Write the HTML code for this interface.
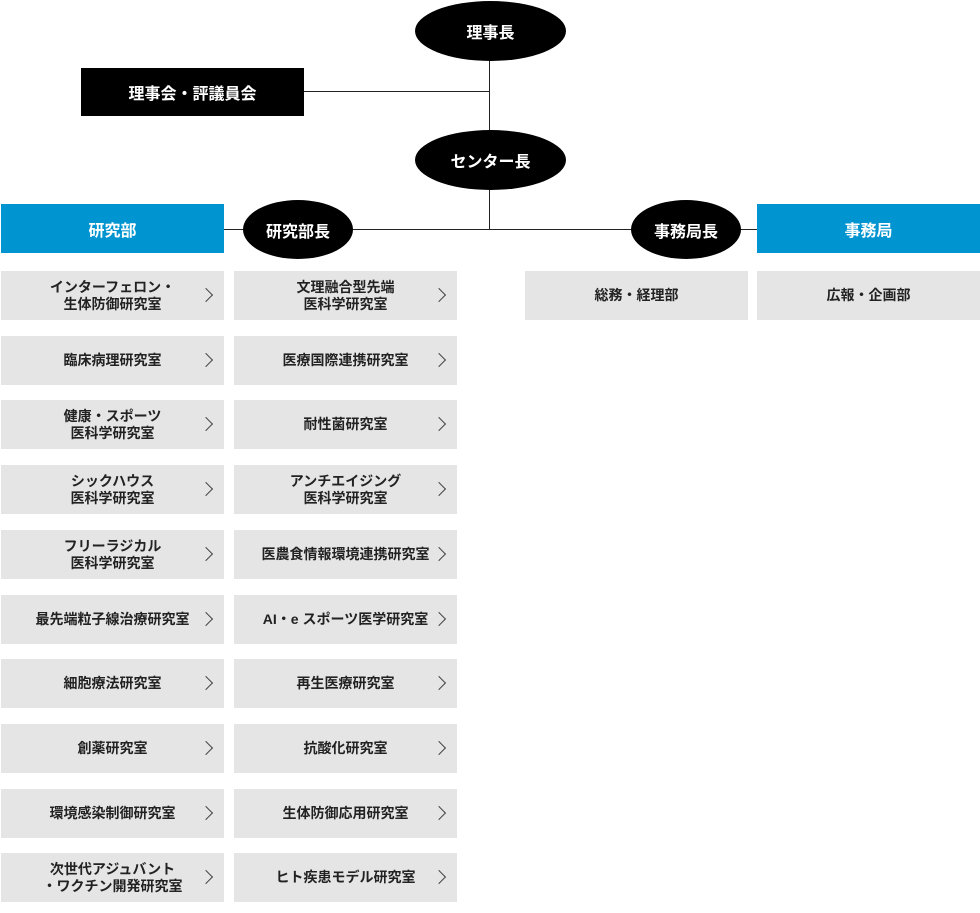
<!DOCTYPE html>
<html><head><meta charset="utf-8"><style>
body{margin:0;width:980px;height:913px;background:#fff;position:relative;font-family:"Liberation Sans","Noto Sans CJK JP",sans-serif;overflow:hidden}
.a{position:absolute;display:flex;align-items:center;justify-content:center;text-align:center;box-sizing:border-box}
.el{background:#000;color:#fff;border-radius:50%;font-size:16px;font-weight:bold}
.blk{background:#000;color:#fff;font-size:16px;font-weight:bold}
.blue{background:#0095d0;color:#fff;font-size:16px;font-weight:bold}
.g{background:#e5e5e5;color:#222;font-size:14px;font-weight:bold;line-height:17px;width:223px;height:49px}
.g span{display:block;width:223px}
.g.c::after{content:"";position:absolute;right:13px;top:19px;width:9px;height:9px;border-top:1px solid #444;border-right:1px solid #444;transform:rotate(45deg)}
.l{position:absolute;background:#222}
</style></head><body>
<div class="l" style="left:489px;top:50px;width:1px;height:180px"></div>
<div class="l" style="left:304px;top:91px;width:186px;height:1px"></div>
<div class="l" style="left:224px;top:229px;width:533px;height:1px"></div>
<div class="a el" style="left:415px;top:1px;width:151px;height:60px">理事長</div>
<div class="a blk" style="left:81px;top:68px;width:223px;height:48px">理事会・評議員会</div>
<div class="a el" style="left:415px;top:130px;width:151px;height:60px">センター長</div>
<div class="a blue" style="left:1px;top:204px;width:223px;height:49px">研究部</div>
<div class="a el" style="left:243px;top:200px;width:110px;height:59px">研究部長</div>
<div class="a el" style="left:631px;top:200px;width:110px;height:59px">事務局長</div>
<div class="a blue" style="left:757px;top:204px;width:223px;height:49px">事務局</div>

<div class="a g c" style="left:1px;top:271px"><span>インターフェロン・<br>生体防御研究室</span></div>
<div class="a g c" style="left:1px;top:336px"><span>臨床病理研究室</span></div>
<div class="a g c" style="left:1px;top:400px"><span>健康・スポーツ<br>医科学研究室</span></div>
<div class="a g c" style="left:1px;top:465px"><span>シックハウス<br>医科学研究室</span></div>
<div class="a g c" style="left:1px;top:530px"><span>フリーラジカル<br>医科学研究室</span></div>
<div class="a g c" style="left:1px;top:595px"><span style="width:196px">最先端粒子線治療研究室</span></div>
<div class="a g c" style="left:1px;top:659px"><span>細胞療法研究室</span></div>
<div class="a g c" style="left:1px;top:724px"><span>創薬研究室</span></div>
<div class="a g c" style="left:1px;top:789px"><span>環境感染制御研究室</span></div>
<div class="a g c" style="left:1px;top:853px"><span>次世代アジュバント<br>・ワクチン開発研究室</span></div>

<div class="a g c" style="left:234px;top:271px"><span>文理融合型先端<br>医科学研究室</span></div>
<div class="a g c" style="left:234px;top:336px"><span>医療国際連携研究室</span></div>
<div class="a g c" style="left:234px;top:400px"><span>耐性菌研究室</span></div>
<div class="a g c" style="left:234px;top:465px"><span>アンチエイジング<br>医科学研究室</span></div>
<div class="a g c" style="left:234px;top:530px"><span style="width:196px">医農食情報環境連携研究室</span></div>
<div class="a g c" style="left:234px;top:595px"><span>AI・e スポーツ医学研究室</span></div>
<div class="a g c" style="left:234px;top:659px"><span>再生医療研究室</span></div>
<div class="a g c" style="left:234px;top:724px"><span>抗酸化研究室</span></div>
<div class="a g c" style="left:234px;top:789px"><span>生体防御応用研究室</span></div>
<div class="a g c" style="left:234px;top:853px"><span>ヒト疾患モデル研究室</span></div>

<div class="a g" style="left:525px;top:271px"><span>総務・経理部</span></div>
<div class="a g" style="left:757px;top:271px"><span>広報・企画部</span></div>
</body></html>
